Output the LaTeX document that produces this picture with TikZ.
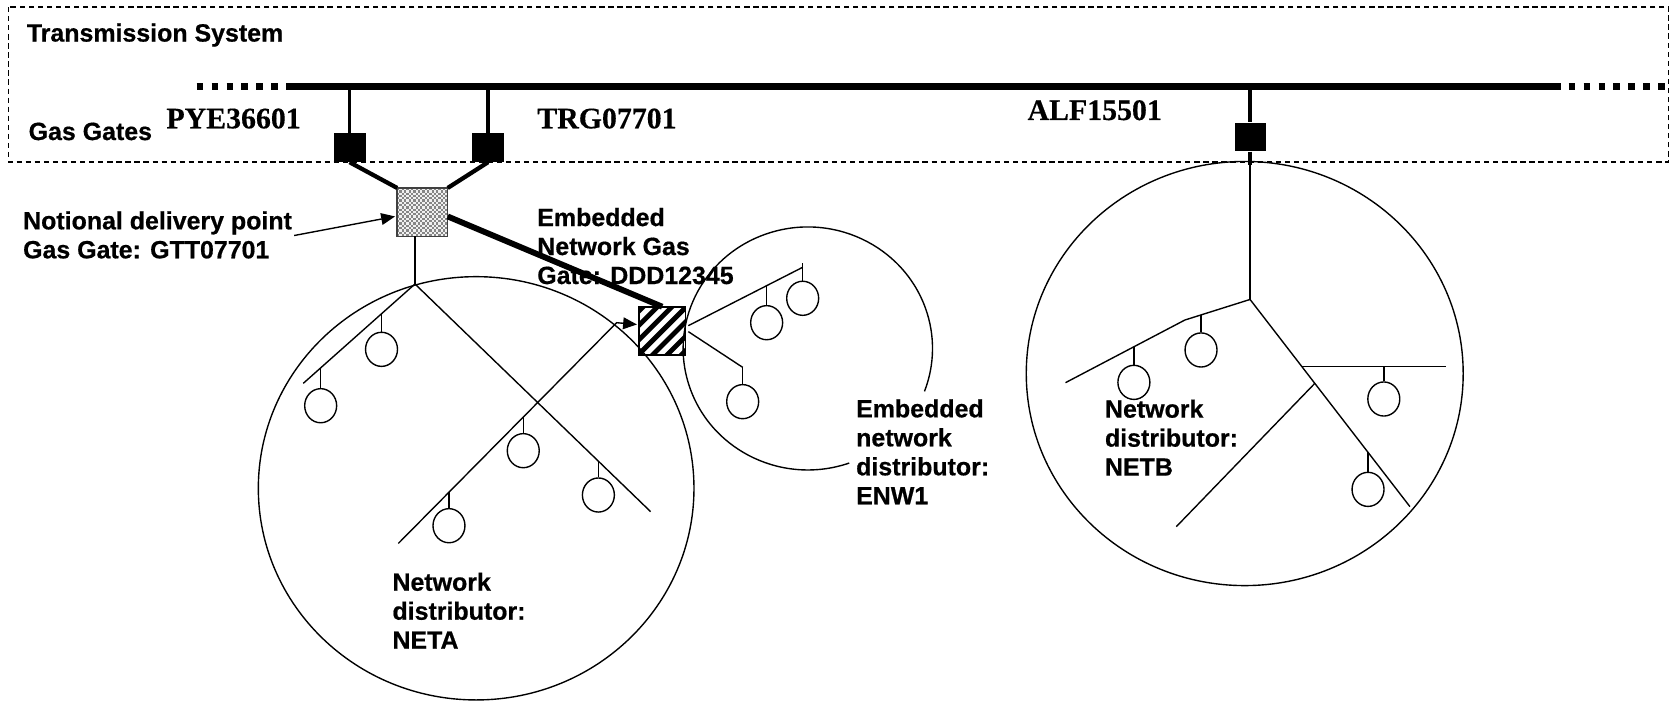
\documentclass[tikz,border=0pt]{standalone}
\usepackage{fontspec}
\newfontfamily\lsans[BoldFeatures={FakeBold=0.6}]{Liberation Sans}
\newfontfamily\lserif[BoldFeatures={FakeBold=0.4}]{Liberation Serif}
\usetikzlibrary{arrows.meta,shapes.geometric,calc}
\newcommand\mylines[1]{\begin{tabular}[t]{@{}l@{}}#1\end{tabular}}
\begin{document}
\begin{tikzpicture}[x=1pt,y=-1pt,
  thinl/.style={line width=1.3pt},
  framebox/.style={line width=1pt, dash pattern=on 5pt off 3.5pt},
  pipe/.style={line width=6.3pt},
  pipedots/.style={line width=6.3pt, dash pattern=on 6pt off 8pt},
  dropline/.style={line width=3.5pt},
  feed/.style={line width=4pt},
  feedthick/.style={line width=5.5pt},
  gate/.style={rectangle, fill=black, minimum width=30pt, minimum height=27pt, inner sep=0pt},
  ndpbox/.style={rectangle, fill=gray!12, minimum width=47pt, minimum height=45pt, inner sep=0pt},
  edpbox/.style={rectangle, minimum width=43pt, minimum height=45pt, inner sep=0pt},
  cust/.style={ellipse, draw, line width=1.3pt, minimum width=30pt, minimum height=32pt, inner sep=0pt},
  lab/.style={font=\lsans\bfseries\fontsize{23.4}{27.2}\selectfont, inner sep=0pt, anchor=base west},
  code/.style={font=\lserif\bfseries\fontsize{28}{30}\selectfont, inner sep=0pt, anchor=base west},
  arr/.style={-{Triangle[length=13pt,width=11pt]}}
]
\useasboundingbox (0,0) rectangle (1568,658);

% transmission system frame
\draw[framebox] (8,6.6) rectangle (1566,152);

% pipeline
\coordinate (pL) at (184.6,81);
\coordinate (pS) at (272,81);
\coordinate (pE) at (1465,81);
\coordinate (pE2) at (1472,81);
\coordinate (pR) at (1563,81);
\draw[pipe] (pS) -- (pE);
\draw[pipedots] (pL) -- (pS);
\draw[pipedots] (pE2) -- (pR);

% gas gates
\node[gate] (gP) at (328,138.5) {};
\node[gate] (gT) at (458,138.5) {};
\node[gate, minimum width=29pt] (gA) at (1173,128.5) {};
\draw[dropline] (gP |- pE) -- (gP.north);
\draw[dropline] (gT |- pE) -- (gT.north);
\draw[dropline] (gA |- pE) -- (gA.north);
\coordinate (aStub) at (1173,155);
\draw[dropline] (gA.south) -- (aStub);

% texts
\node[lab] (lTS) at (25,39) {Transmission System};
\node[lab] (lGG) at (26.7,131.4) {Gas Gates};
\node[code] (lPYE) at (156,120.4) {PYE36601};
\node[code] (lTRG) at (504,120.4) {TRG07701};
\node[code] (lALF) at (964,112.6) {ALF15501};
\node[lab] (lNDP) at (21.5,215.2) {\mylines{Notional delivery point\\Gas Gate: GTT07701}};
\node[lab] (lEDP) at (504,212.1) {\mylines{Embedded\\Network Gas\\Gate: DDD12345}};
\node[lab] (lENW) at (803.2,391.6) {\mylines{Embedded\\network\\distributor:\\ENW1}};
\node[lab] (lNETA) at (368.1,554.3) {\mylines{Network\\distributor:\\NETA}};
\node[lab] (lNETB) at (1036.7,391.9) {\mylines{Network\\distributor:\\NETB}};

% notional delivery point (checkered)
\node[ndpbox] (ndp) at (396.4,199.1) {};
\begin{scope}
  \clip (ndp.south west) rectangle (ndp.north east);
  \foreach \i in {0,2,...,22}
    \foreach \j in {0,2,...,20} {
      \fill[gray!95] ($(ndp.north west)+(\i*2.15,\j*2.15)$) rectangle ++(2.15,2.15);
      \fill[gray!95] ($(ndp.north west)+(\i*2.15+2.15,\j*2.15+2.15)$) rectangle ++(2.15,2.15);
    }
\end{scope}
\draw[line width=1.3pt, draw=black!75] (ndp.south west) rectangle (ndp.north east);
\draw[feed] (gP.south) -- (ndp.north west);
\draw[feed] (gT.south) -- (ndp.north east);
\coordinate (ndpArr) at (276,221);
\draw[thinl, arr] (ndpArr) -- ($(ndp.west)+(-2,4)$);

% embedded network gas gate (hatched)
\node[edpbox] (edp) at (621.4,310.5) {};
\begin{scope}
  \clip (edp.south west) rectangle (edp.north east);
  \foreach \k in {-4,...,4}
    \draw[line width=4.5pt] ($(edp.center)+(\k*13.5-30,30)$) -- ++(60,-60);
\end{scope}
\draw[line width=1.5pt] (edp.south west) rectangle (edp.north east);

% NETA network
\draw[thinl] (446.8,458.2) ellipse [x radius=204.4, y radius=198.6];
\coordinate (JA) at (389.4,266.5);
\coordinate (AL) at (284.6,359.7);
\coordinate (AR) at (610.5,480.1);
\coordinate (AD1) at (373.8,509.9);
\coordinate (AD2) at (578.6,302.8);
\draw[thinl] (JA |- ndp.south) -- (JA);
\draw[thinl] (AL) -- (JA) -- (AR);
\draw[thinl, arr] (AD1) -- (AD2) -- ($(edp.west)+(-2,-6)$);
\foreach \n/\x/\yt/\yc in {a1/358/294.4/327.8, a2/300.9/345.2/380.7, a3/491/391.4/422.9, a4/421.3/461.9/493.3, a5/561.5/432.8/464.5}{
  \coordinate (\n t) at (\x,\yt);
  \node[cust] (\n) at (\x,\yc) {};
  \draw[thinl] (\n t) -- (\n.north);
}

% ENW embedded network
\draw[thinl] (796.9,434.5) arc[start angle=70.6, end angle=380.7, x radius=117, y radius=114];
\coordinate (E1s) at (645.9,305.6);
\coordinate (E1e) at (753.2,250.8);
\coordinate (E2s) at (645.9,311.2);
\coordinate (E2e) at (696.9,344.7);
\draw[thinl] (E1s) -- (E1e);
\draw[thinl] (E2s) -- (E2e);
\foreach \n/\x/\yt/\yc in {e1/753.2/247.1/279.9, e2/719.4/268.1/302.8, e3/696.9/344.7/376.9}{
  \coordinate (\n t) at (\x,\yt);
  \node[cust] (\n) at (\x,\yc) {};
  \draw[thinl] (\n t) -- (\n.north);
}

% NETB network
\draw[thinl] (1168,350.5) ellipse [x radius=205, y radius=199];
\coordinate (JB) at (1173,281);
\coordinate (BL1) at (1111.8,300.3);
\coordinate (BL2) at (999.8,359.1);
\coordinate (BR) at (1323,475.4);
\coordinate (H1) at (1221.4,343.7);
\coordinate (H2) at (1356.8,343.7);
\coordinate (DL1) at (1233.5,360);
\coordinate (DL2) at (1103.8,494.2);
\draw[thinl] (aStub) -- (JB);
\draw[thinl] (BL2) -- (BL1) -- (JB) -- (BR);
\draw[thinl] (H1) -- (H2);
\draw[thinl] (DL1) -- (DL2);
\foreach \n/\x/\yt/\yc in {b1/1127/295.5/328.4, b2/1064/325.4/358.8, b3/1298.5/343.7/374.4, b4/1283.7/424.5/459.2}{
  \coordinate (\n t) at (\x,\yt);
  \node[cust] (\n) at (\x,\yc) {};
  \draw[thinl] (\n t) -- (\n.north);
}

% thick feed from notional point to embedded gate (over the label)
\draw[feedthick] ($(ndp.east)+(0,4)$) -- (edp.north);
\end{tikzpicture}
\end{document}
